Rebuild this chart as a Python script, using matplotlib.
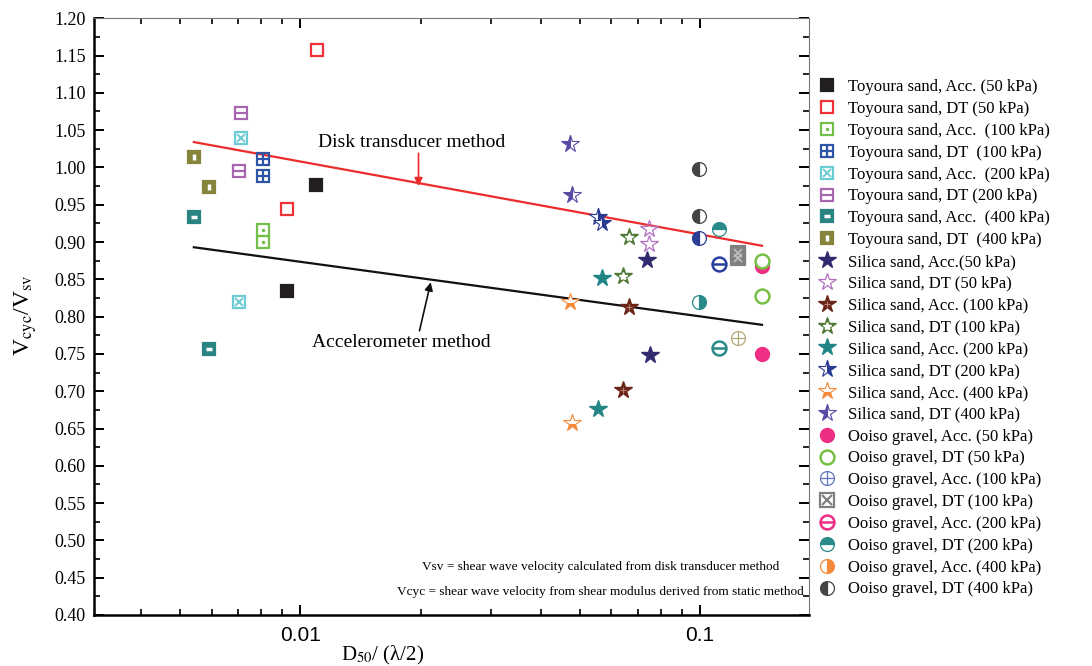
import numpy as np
import matplotlib
matplotlib.use('Agg')
import matplotlib.pyplot as plt
from matplotlib.ticker import MultipleLocator, LogLocator, NullFormatter, FixedLocator, FixedFormatter

plt.rcParams['font.family'] = ['Liberation Serif', 'DejaVu Serif']
plt.rcParams['mathtext.fontset'] = 'stix'

# data: (D50/(lambda/2), Vcyc/Vsv)
toy_acc50_x = [0.01096, 0.00928]
toy_acc50_y = [0.977, 0.835]
toy_dt50_x = [0.0110, 0.00928]
toy_dt50_y = [1.158, 0.944]
toy_acc100_x = [0.00808, 0.00808]
toy_acc100_y = [0.916, 0.900]
toy_dt100_x = [0.00808, 0.00808]
toy_dt100_y = [1.011, 0.989]
toy_acc200_x = [0.00711, 0.00704]
toy_acc200_y = [1.040, 0.820]
toy_dt200_x = [0.00711, 0.00704]
toy_dt200_y = [1.073, 0.995]
toy_acc400_x = [0.00542, 0.00591]
toy_acc400_y = [0.933, 0.757]
toy_dt400_x = [0.00542, 0.00591]
toy_dt400_y = [1.014, 0.974]

sil_acc50_x = [0.0736, 0.0751]
sil_acc50_y = [0.876, 0.748]
sil_dt50_x = [0.0746, 0.0746]
sil_dt50_y = [0.918, 0.897]
sil_acc100_x = [0.0664, 0.0641]
sil_acc100_y = [0.813, 0.701]
sil_dt100_x = [0.0664, 0.0641]
sil_dt100_y = [0.907, 0.854]
sil_acc200_x = [0.0567, 0.0554]
sil_acc200_y = [0.852, 0.676]
sil_dt200_x = [0.0555, 0.0567]
sil_dt200_y = [0.934, 0.925]
sil_acc400_x = [0.0472, 0.0479]
sil_acc400_y = [0.820, 0.657]
sil_dt400_x = [0.0472, 0.0479]
sil_dt400_y = [1.031, 0.963]

ooi_acc50_x = [0.1428, 0.1428]
ooi_acc50_y = [0.868, 0.750]
ooi_dt50_x = [0.1428, 0.1428]
ooi_dt50_y = [0.875, 0.827]
ooi_acc100_x = [0.1245]
ooi_acc100_y = [0.771]
ooi_dt100_x = [0.1245, 0.1245]
ooi_dt100_y = [0.879, 0.885]
ooi_acc200_x = [0.1117, 0.1117]
ooi_acc200_y = [0.871, 0.758]
ooi_dt200_x = [0.1117]
ooi_dt200_y = [0.917]
ooi_acc400_x = [0.0993]
ooi_acc400_y = [0.819]
ooi_dt400_x = [0.0993, 0.0993, 0.0993]
ooi_dt400_y = [0.998, 0.935, 0.906]

# trend lines
disk_x = [0.00542, 0.1428]
disk_y = [1.034, 0.895]
acc_x = [0.00542, 0.1428]
acc_y = [0.893, 0.789]

fig = plt.figure(figsize=(10.92, 6.66), dpi=100)
ax = fig.add_axes([0.0861, 0.0766, 0.655, 0.896])

ms = 9
handles = []
labels = []


def series(x, y, label, layers, legend_layers=None):
    hs = []
    for kw in layers:
        h, = ax.plot(x, y, linestyle='none', **kw)
        hs.append(h)
    if legend_layers is not None:
        hs = [ax.plot([], [], linestyle='none', **kw)[0] for kw in legend_layers]
    handles.append(tuple(hs))
    labels.append(label)


def sq(c, fill='none', mew=1.6, size=ms):
    return dict(marker='s', ms=size, mfc=fill, mec=c, mew=mew)


series(toy_acc50_x, toy_acc50_y, 'Toyoura sand, Acc. (50 kPa)', [sq('#231f20', '#231f20')])
series(toy_dt50_x, toy_dt50_y, 'Toyoura sand, DT (50 kPa)', [sq('#ee3338')])
series(toy_acc100_x, toy_acc100_y, 'Toyoura sand, Acc.  (100 kPa)',
       [sq('#72c04a'), dict(marker='.', ms=3, color='#72c04a')])
series(toy_dt100_x, toy_dt100_y, 'Toyoura sand, DT  (100 kPa)',
       [sq('#2e55a5'), dict(marker='+', ms=ms, mew=1.6, color='#2e55a5')])
series(toy_acc200_x, toy_acc200_y, 'Toyoura sand, Acc.  (200 kPa)',
       [sq('#6ccbd3'), dict(marker='x', ms=6, mew=1.4, color='#6ccbd3')])
series(toy_dt200_x, toy_dt200_y, 'Toyoura sand, DT (200 kPa)',
       [sq('#a866b0'), dict(marker='_', ms=ms, mew=1.6, color='#a866b0')])
series(toy_acc400_x, toy_acc400_y, 'Toyoura sand, Acc.  (400 kPa)',
       [sq('#2a8484', '#2a8484'), dict(marker='_', ms=5, mew=2.5, color='white')])
series(toy_dt400_x, toy_dt400_y, 'Toyoura sand, DT  (400 kPa)',
       [sq('#85843a', '#85843a'), dict(marker='|', ms=5, mew=2.5, color='white')])

series(sil_acc50_x, sil_acc50_y, 'Silica sand, Acc.(50 kPa)',
       [dict(marker='*', ms=13, color='#2f2b6e')])
series(sil_dt50_x, sil_dt50_y, 'Silica sand, DT (50 kPa)',
       [dict(marker='*', ms=13, mfc='none', mec='#b06fc0', mew=0.9)])
series(sil_acc100_x, sil_acc100_y, 'Silica sand, Acc. (100 kPa)',
       [dict(marker='*', ms=13, color='#6b2418'), dict(marker='+', ms=5, mew=0.8, color='#c08070')])
series(sil_dt100_x, sil_dt100_y, 'Silica sand, DT (100 kPa)',
       [dict(marker='*', ms=13, color='#4f7a35'), dict(marker='*', ms=6, color='white')])
series(sil_acc200_x, sil_acc200_y, 'Silica sand, Acc. (200 kPa)',
       [dict(marker='*', ms=13, color='#238585')])
series(sil_dt200_x, sil_dt200_y, 'Silica sand, DT (200 kPa)',
       [dict(marker='*', ms=13, fillstyle='right', mfc='#283a92', mfcalt='white',
             mec='#283a92', mew=0.8)])
series(sil_acc400_x, sil_acc400_y, 'Silica sand, Acc. (400 kPa)',
       [dict(marker='*', ms=13, fillstyle='bottom', mfc='#f58a3a', mfcalt='white',
             mec='#f58a3a', mew=0.8)])
series(sil_dt400_x, sil_dt400_y, 'Silica sand, DT (400 kPa)',
       [dict(marker='*', ms=13, fillstyle='left', mfc='#5b4aa5', mfcalt='white',
             mec='#5b4aa5', mew=0.8)])

series(ooi_acc50_x, ooi_acc50_y, 'Ooiso gravel, Acc. (50 kPa)',
       [dict(marker='o', ms=10, color='#ee2e84')])
series(ooi_dt50_x, ooi_dt50_y, 'Ooiso gravel, DT (50 kPa)',
       [dict(marker='o', ms=10, mfc='white', mec='#78c043', mew=1.8)])
series(ooi_acc100_x, ooi_acc100_y, 'Ooiso gravel, Acc. (100 kPa)',
       [dict(marker='o', ms=10, mfc='none', mec='#b5a878', mew=0.9),
        dict(marker='+', ms=10, mew=0.9, color='#b5a878')],
       legend_layers=[dict(marker='o', ms=10, mfc='none', mec='#6275c0', mew=0.9),
                      dict(marker='+', ms=10, mew=0.9, color='#6275c0')])
series(ooi_dt100_x, ooi_dt100_y, 'Ooiso gravel, DT (100 kPa)',
       [sq('#808080', '#808080', size=10), dict(marker='x', ms=6, mew=1.2, color='#c0c0c0')],
       legend_layers=[sq('#808080', size=10), dict(marker='x', ms=7, mew=1.6, color='#808080')])
ooi_acc200_colors = ['#2940a0', '#2a8a8a']
for i in range(len(ooi_acc200_x)):
    ax.plot(ooi_acc200_x[i], ooi_acc200_y[i], linestyle='none', marker='o', ms=10,
            mfc='none', mec=ooi_acc200_colors[i], mew=1.8)
    ax.plot(ooi_acc200_x[i], ooi_acc200_y[i], linestyle='none', marker='_', ms=10,
            mew=1.8, color=ooi_acc200_colors[i])
handles.append((ax.plot([], [], linestyle='none', marker='o', ms=10, mfc='none', mec='#ee2e84', mew=1.8)[0],
                ax.plot([], [], linestyle='none', marker='_', ms=10, mew=1.8, color='#ee2e84')[0]))
labels.append('Ooiso gravel, Acc. (200 kPa)')
series(ooi_dt200_x, ooi_dt200_y, 'Ooiso gravel, DT (200 kPa)',
       [dict(marker='o', ms=10, fillstyle='top', mfc='#2a8a8a', mfcalt='white',
             mec='#2a8a8a', mew=0.9)])
series(ooi_acc400_x, ooi_acc400_y, 'Ooiso gravel, Acc. (400 kPa)',
       [dict(marker='o', ms=10, fillstyle='right', mfc='#2a8a8a', mfcalt='white',
             mec='#2a8a8a', mew=0.9)],
       legend_layers=[dict(marker='o', ms=10, fillstyle='right', mfc='#f58a3a', mfcalt='white',
                           mec='#f58a3a', mew=0.9)])
ooi_dt400_colors = ['#444444', '#444444', '#2c3e94']
for i in range(len(ooi_dt400_x)):
    ax.plot(ooi_dt400_x[i], ooi_dt400_y[i], linestyle='none', marker='o', ms=10,
            fillstyle='left', mfc=ooi_dt400_colors[i], mfcalt='white',
            mec=ooi_dt400_colors[i], mew=0.9)
handles.append(ax.plot([], [], linestyle='none', marker='o', ms=10, fillstyle='left',
                       mfc='#444444', mfcalt='white', mec='#444444', mew=0.9)[0])
labels.append('Ooiso gravel, DT (400 kPa)')

# trend lines
ax.plot(disk_x, disk_y, color='#ee2b2b', lw=1.6, zorder=1)
ax.plot(acc_x, acc_y, color='#111111', lw=1.6, zorder=1)

ax.text(0.0190, 1.034, 'Disk transducer method', ha='center', va='center', fontsize=14)
ax.annotate('', xy=(0.01976, 0.975), xytext=(0.01976, 1.019),
            arrowprops=dict(arrowstyle='-|>', color='#ee2b2b', lw=1.2, mutation_scale=12,
                            shrinkA=0, shrinkB=0))
ax.text(0.0179, 0.765, 'Accelerometer method', ha='center', va='center', fontsize=14)
ax.annotate('', xy=(0.0212, 0.846), xytext=(0.01987, 0.781),
            arrowprops=dict(arrowstyle='-|>', color='#111111', lw=1.2, mutation_scale=12,
                            shrinkA=0, shrinkB=0))

ax.text(0.708, 0.080, 'Vsv = shear wave velocity calculated from disk transducer method',
        transform=ax.transAxes, ha='center', va='center', fontsize=9.6)
ax.text(0.708, 0.038, 'Vcyc = shear wave velocity from shear modulus derived from static method',
        transform=ax.transAxes, ha='center', va='center', fontsize=9.6)

ax.set_xscale('log')
ax.set_xlim(0.00305, 0.1875)
ax.set_ylim(0.40, 1.20)

ax.xaxis.set_major_locator(FixedLocator([0.01, 0.1]))
ax.xaxis.set_major_formatter(FixedFormatter(['0.01', '0.1']))
ax.xaxis.set_minor_locator(LogLocator(base=10, subs=np.arange(2, 10)))
ax.xaxis.set_minor_formatter(NullFormatter())
ax.yaxis.set_major_locator(MultipleLocator(0.05))
ax.yaxis.set_minor_locator(MultipleLocator(0.025))
ax.yaxis.set_major_formatter(plt.FormatStrFormatter('%.2f'))

ax.tick_params(axis='both', which='both', direction='in', top=True, right=True)
ax.tick_params(axis='both', which='major', length=7, width=1.4)
ax.tick_params(axis='both', which='minor', length=4, width=1.2)
ax.tick_params(axis='y', labelsize=13, pad=6)
ax.tick_params(axis='x', labelsize=15, pad=8)
for lab in ax.get_xticklabels():
    lab.set_family('Liberation Sans')

for s in ['left', 'bottom']:
    ax.spines[s].set_linewidth(1.8)
for s in ['top', 'right']:
    ax.spines[s].set_linewidth(0.8)
    ax.spines[s].set_color('#777777')

ax.set_ylabel('V$_{\\rm cyc}$/V$_{\\rm sv}$', fontsize=17)
ax.yaxis.set_label_coords(-0.077, 0.503)
ax.set_xlabel('D$_{50}$/ (λ/2)', fontsize=15)
ax.xaxis.set_label_coords(0.404, -0.048)

fig.legend(handles, labels, loc='upper left', bbox_to_anchor=(0.748, 0.881),
           frameon=False, fontsize=12, handlelength=1.2, handletextpad=0.7,
           labelspacing=0.35, borderpad=0, borderaxespad=0)

fig.savefig('out.png', dpi=100)
